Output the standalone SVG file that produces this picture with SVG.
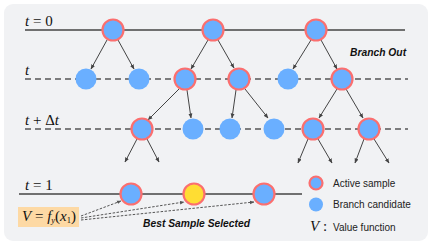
<svg xmlns="http://www.w3.org/2000/svg" width="432" height="246" viewBox="0 0 432 246">
<defs>
<marker id="ah" viewBox="0 0 10 10" refX="9" refY="5" markerWidth="5" markerHeight="5" orient="auto">
<path d="M0,1 L10,5 L0,9 z" fill="#444"/>
</marker>
<marker id="ahs" viewBox="0 0 10 10" refX="9" refY="5" markerWidth="4.5" markerHeight="4.5" orient="auto">
<path d="M0,1 L10,5 L0,9 z" fill="#555"/>
</marker>
</defs>
<style>
.act{fill:#6aafff;stroke:#fb6f6f;stroke-width:2.2}
.best{fill:#ffdd33;stroke:#fb6f6f;stroke-width:2.2}
.cand{fill:#6aafff}
.solid{stroke:#444;stroke-width:1.3;fill:none}
.dash{stroke:#555;stroke-width:1.3;stroke-dasharray:6 4;fill:none}
.arr{stroke:#444;stroke-width:1;fill:none;marker-end:url(#ah)}
.dot{stroke:#555;stroke-width:1;stroke-dasharray:2.5 1.5;fill:none;marker-end:url(#ahs)}
.math{font-family:"Liberation Serif",serif;font-size:15px;fill:#111}
.lbl{font-family:"Liberation Sans",Arial,sans-serif;font-weight:bold;font-style:italic;font-size:10.3px;fill:#111}
.leg{font-family:"Liberation Sans",Arial,sans-serif;font-size:10px;fill:#222}
</style>
<rect x="4" y="4" width="424" height="237" rx="9" fill="#f1f2f4"/>
<g id="rows">
<line class="solid" x1="25" y1="30" x2="405" y2="30"/>
<line class="dash" x1="25" y1="79" x2="408" y2="79"/>
<line class="dash" x1="25" y1="129" x2="408" y2="129"/>
<line class="solid" x1="19" y1="194" x2="302" y2="194"/>
</g>
<g id="labels">
<text class="math" x="25" y="26"><tspan font-style="italic">t</tspan> = 0</text>
<text class="math" x="25" y="75" font-style="italic">t</text>
<text class="math" x="25" y="125"><tspan font-style="italic">t</tspan> + Δ<tspan font-style="italic">t</tspan></text>
<text class="math" x="25" y="190"><tspan font-style="italic">t</tspan> = 1</text>
<text class="lbl" x="350" y="56">Branch Out</text>
<text class="lbl" x="143" y="227">Best Sample Selected</text>
</g>
<g id="connectors">
<line class="arr" x1="107" y1="40" x2="91" y2="69"/>
<line class="arr" x1="118" y1="40" x2="134" y2="69"/>
<line class="arr" x1="208" y1="40" x2="191" y2="69"/>
<line class="arr" x1="218" y1="40" x2="234" y2="68"/>
<line class="arr" x1="311" y1="40" x2="293" y2="69"/>
<line class="arr" x1="321" y1="40" x2="337" y2="69"/>
<line class="arr" x1="179" y1="89" x2="148" y2="120"/>
<line class="arr" x1="187" y1="90" x2="191" y2="118"/>
<line class="arr" x1="236" y1="90" x2="232" y2="118"/>
<line class="arr" x1="245" y1="89" x2="268" y2="118"/>
<line class="arr" x1="337" y1="89" x2="319" y2="118"/>
<line class="arr" x1="346" y1="89" x2="363" y2="118"/>
<line class="arr" x1="137" y1="139" x2="125" y2="162"/>
<line class="arr" x1="147" y1="139" x2="159" y2="162"/>
<line class="arr" x1="308" y1="139" x2="298" y2="163"/>
<line class="arr" x1="318" y1="139" x2="332" y2="163"/>
<line class="arr" x1="364" y1="139" x2="355" y2="163"/>
<line class="arr" x1="374" y1="139" x2="389" y2="163"/>
<path class="dot" d="M81,216 L121,201"/>
<path class="dot" d="M81,218 L184,202"/>
<path class="dot" d="M81,220 L254,202"/>
</g>
<g id="n0a"><circle class="act" cx="113" cy="30" r="10.5"/></g>
<g id="n0b"><circle class="act" cx="213" cy="30" r="10.5"/></g>
<g id="n0c"><circle class="act" cx="316" cy="30" r="10.5"/></g>
<g id="n1a"><circle class="cand" cx="86" cy="79" r="10.5"/></g>
<g id="n1b"><circle class="cand" cx="139" cy="79" r="10.5"/></g>
<g id="n1c"><circle class="act" cx="185" cy="79" r="10.5"/></g>
<g id="n1d"><circle class="act" cx="239" cy="79" r="10.5"/></g>
<g id="n1e"><circle class="cand" cx="288" cy="79" r="10.5"/></g>
<g id="n1f"><circle class="act" cx="342" cy="79" r="10.5"/></g>
<g id="n2a"><circle class="act" cx="142" cy="129" r="10.5"/></g>
<g id="n2b"><circle class="cand" cx="193" cy="129" r="10.5"/></g>
<g id="n2c"><circle class="cand" cx="230" cy="129" r="10.5"/></g>
<g id="n2d"><circle class="cand" cx="274" cy="129" r="10.5"/></g>
<g id="n2e"><circle class="act" cx="313" cy="129" r="10.5"/></g>
<g id="n2f"><circle class="act" cx="369" cy="129" r="10.5"/></g>
<g id="n3a"><circle class="act" cx="131" cy="194" r="10.5"/></g>
<g id="n3b"><circle class="best" cx="194" cy="194" r="10.5"/></g>
<g id="n3c"><circle class="act" cx="264" cy="194" r="10.5"/></g>
<g id="vbox">
<rect x="18" y="207" width="61" height="20" fill="#fdd9a4"/>
<text class="math" x="49" y="221" text-anchor="middle" font-size="13"><tspan font-style="italic">V</tspan> = <tspan font-style="italic">f</tspan><tspan font-style="italic" font-size="8.5" dy="2">y</tspan><tspan dy="-2">(</tspan><tspan font-style="italic">x</tspan><tspan font-size="8.5" dy="2">1</tspan><tspan dy="-2">)</tspan></text>
</g>
<g id="legend">
<circle class="act" cx="316" cy="183" r="6.5"/>
<text class="leg" x="333" y="186.5">Active sample</text>
<circle class="cand" cx="316" cy="204.5" r="7"/>
<text class="leg" x="333" y="208">Branch candidate</text>
<text class="math" x="310" y="231" font-size="12"><tspan font-style="italic">V</tspan> :</text>
<text class="leg" x="333" y="231">Value function</text>
</g>
</svg>
